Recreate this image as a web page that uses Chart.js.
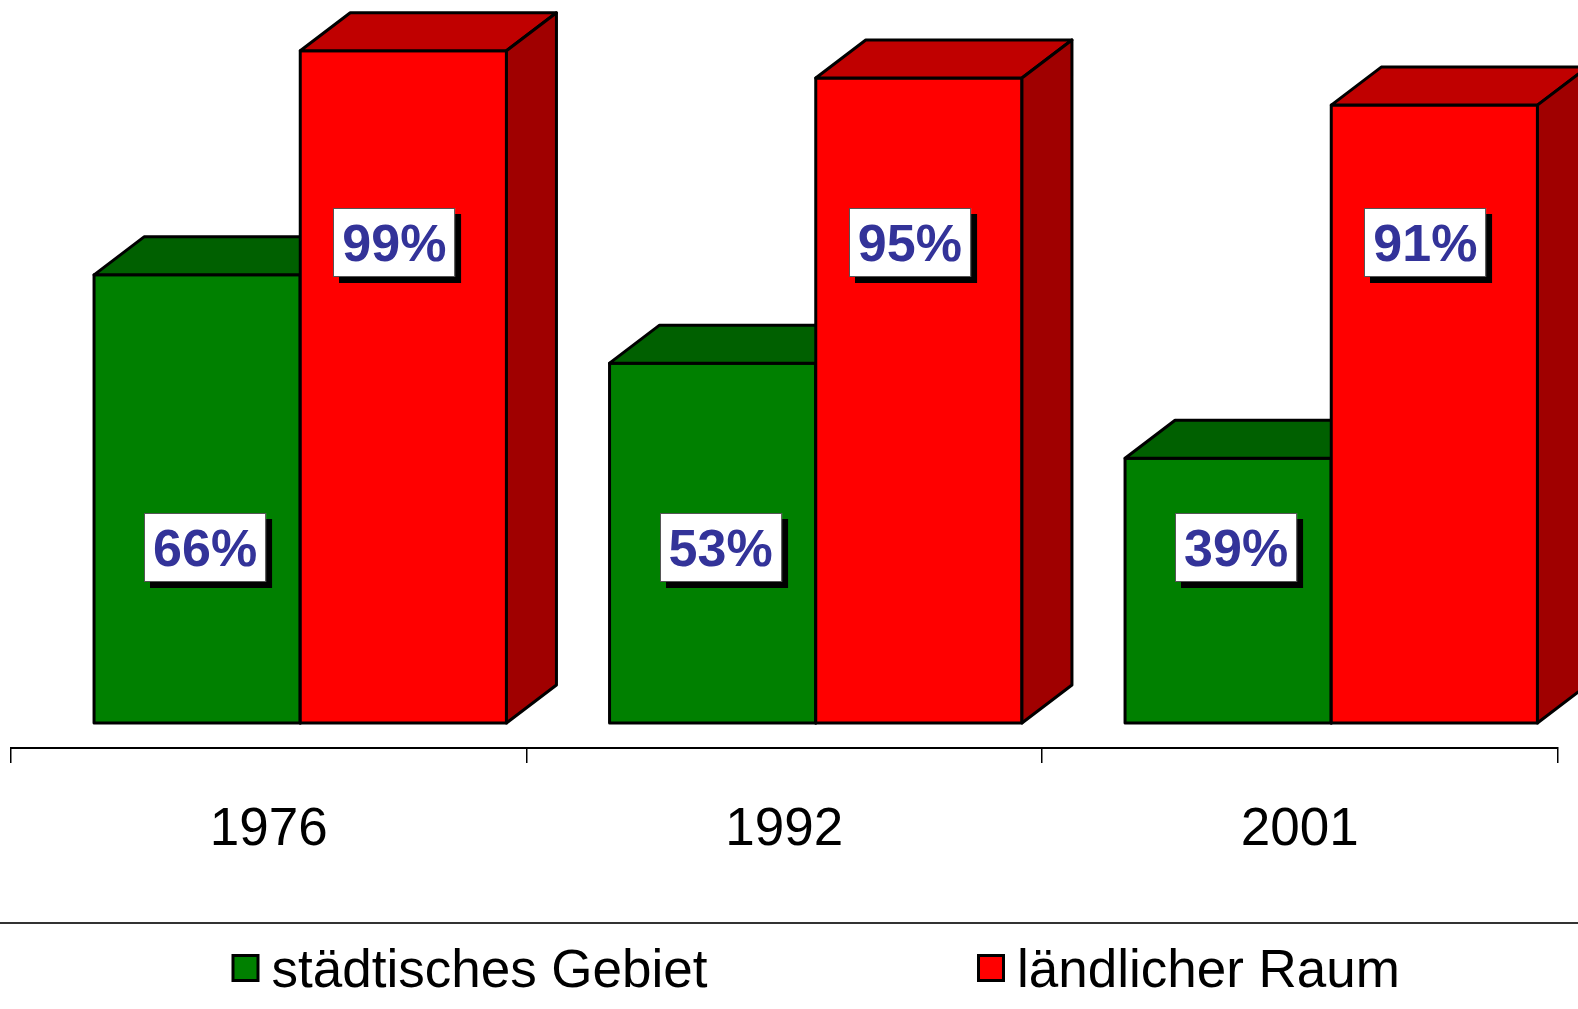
<!DOCTYPE html>
<html><head><meta charset="utf-8">
<script src="https://cdn.jsdelivr.net/npm/chart.js@4.4.0/dist/chart.umd.min.js"></script>
<style>html,body{margin:0;padding:0;background:#fff;overflow:hidden}canvas{display:block}</style>
</head><body>
<canvas id="c" width="1578" height="1009"></canvas>
<script>
const categories = ['1976', '1992', '2001'];
const seriesNames = ['städtisches Gebiet', 'ländlicher Raum'];
const urbanValues = [66, 53, 39];
const ruralValues = [99, 95, 91];
const valueMin = 0, valueMax = 100;

const FONT = '"Liberation Sans", Arial, Helvetica, sans-serif';

function poly(ctx, pts, fill) {
  ctx.beginPath();
  ctx.moveTo(pts[0][0], pts[0][1]);
  for (let k = 1; k < pts.length; k++) ctx.lineTo(pts[k][0], pts[k][1]);
  ctx.closePath();
  ctx.fillStyle = fill;
  ctx.fill();
  ctx.stroke();
}

function geom(chart, di, i, o) {
  const el = chart.getDatasetMeta(di).data[i];
  const p = el.getProps(['x', 'y', 'base', 'width'], true);
  return {
    L: p.x - p.width / 2 + o.shiftX, R: p.x + p.width / 2 + o.shiftX,
    T: p.y + o.shiftY, B: p.base + o.shiftY, cx: p.x + o.shiftX
  };
}

const bars3d = {
  id: 'bars3d',
  beforeDatasetsDraw(chart, args, o) {
    const ctx = chart.ctx;
    ctx.save();
    ctx.lineJoin = 'round';
    ctx.lineWidth = o.borderWidth;
    ctx.strokeStyle = o.borderColor;
    chart.data.labels.forEach((_, i) => {
      chart.data.datasets.forEach((ds, di) => {
        const g = geom(chart, di, i, o);
        const dx = o.depthX, dy = o.depthY;
        poly(ctx, [[g.L, g.T], [g.R, g.T], [g.R, g.B], [g.L, g.B]], ds.backgroundColor);
        poly(ctx, [[g.L, g.T], [g.L + dx, g.T + dy], [g.R + dx, g.T + dy], [g.R, g.T]], o.topColors[di]);
        poly(ctx, [[g.R, g.T], [g.R + dx, g.T + dy], [g.R + dx, g.B + dy], [g.R, g.B]], o.sideColors[di]);
      });
    });
    ctx.restore();
    return false;
  },
  afterDraw(chart, args, o) {
    const ctx = chart.ctx;
    const ys = chart.scales.y;
    ctx.save();
    ctx.font = 'bold ' + o.labelFontSize + 'px ' + FONT;
    ctx.textAlign = 'center';
    ctx.textBaseline = 'middle';
    chart.data.datasets.forEach((ds, di) => {
      ds.data.forEach((v, i) => {
        const g = geom(chart, di, i, o);
        const cx = g.cx + o.labelOffsetX[di];
        const cy = ys.getPixelForValue(o.labelAt[di]) + o.shiftY;
        const txt = v + '%';
        const w = ctx.measureText(txt).width + 2 * o.labelPadX;
        const h = o.labelBoxH;
        const x0 = Math.round(cx - w / 2), y0 = Math.round(cy - h / 2);
        ctx.fillStyle = '#000';
        ctx.fillRect(x0 + o.shadow, y0 + o.shadow, w, h);
        ctx.fillStyle = '#fff';
        ctx.fillRect(x0, y0, w, h);
        ctx.lineWidth = 1;
        ctx.strokeStyle = '#555';
        ctx.strokeRect(x0 + 0.5, y0 + 0.5, w - 1, h - 1);
        ctx.fillStyle = o.labelColor;
        ctx.fillText(txt, cx, cy + 4);
      });
    });
    ctx.restore();
  }
};

const legendBox = {
  id: 'legendBox',
  afterDraw(chart, args, o) {
    const ctx = chart.ctx;
    ctx.save();
    ctx.strokeStyle = '#333';
    ctx.lineWidth = 2;
    ctx.beginPath();
    ctx.moveTo(0, o.lineY);
    ctx.lineTo(chart.width, o.lineY);
    ctx.stroke();
    ctx.font = o.fontSize + 'px ' + FONT;
    ctx.textBaseline = 'alphabetic';
    ctx.textAlign = 'left';
    chart.data.datasets.forEach((ds, di) => {
      const x = o.itemX[di];
      ctx.fillStyle = '#000';
      ctx.fillRect(x, o.boxY, o.boxSize, o.boxSize);
      ctx.fillStyle = ds.backgroundColor;
      ctx.fillRect(x + 3, o.boxY + 3, o.boxSize - 6, o.boxSize - 6);
      ctx.fillStyle = '#000';
      ctx.fillText(ds.label, x + o.boxSize + o.textGap, o.textBaseline);
    });
    ctx.restore();
  }
};

new Chart(document.getElementById('c'), {
  type: 'bar',
  data: {
    labels: categories,
    datasets: [
      { label: seriesNames[0], data: urbanValues, backgroundColor: '#008000' },
      { label: seriesNames[1], data: ruralValues, backgroundColor: '#FF0000' }
    ]
  },
  options: {
    responsive: false,
    devicePixelRatio: 1,
    animation: false,
    events: [],
    categoryPercentage: 0.8,
    barPercentage: 1.0,
    layout: { padding: { left: 11, right: 20.5, top: 69, bottom: 0 } },
    scales: {
      x: {
        offset: true,
        border: { display: true, color: '#000', width: 2 },
        grid: { display: true, offset: true, drawOnChartArea: false, drawTicks: true, tickLength: 15, color: '#000', lineWidth: 1.5 },
        ticks: { color: '#000', font: { family: FONT, size: 53 }, padding: 36, maxRotation: 0, autoSkip: false },
        afterFit(scale) { scale.height = 261; }
      },
      y: { display: false, min: valueMin, max: valueMax }
    },
    plugins: {
      legend: { display: false },
      tooltip: { enabled: false },
      bars3d: {
        shiftX: 31.5, shiftY: -25, depthX: 50, depthY: -38,
        borderWidth: 3, borderColor: '#000',
        topColors: ['#006000', '#C00000'], sideColors: ['#004000', '#A00000'],
        labelAt: [25.8, 70.8], labelOffsetX: [8, -9],
        labelFontSize: 52, labelPadX: 9, labelBoxH: 69, shadow: 6, labelColor: '#333399'
      },
      legendBox: {
        lineY: 923, itemX: [231.5, 977], boxY: 954, boxSize: 28, textGap: 12,
        textBaseline: 987, fontSize: 53
      }
    }
  },
  plugins: [bars3d, legendBox]
});
</script>
</body></html>
